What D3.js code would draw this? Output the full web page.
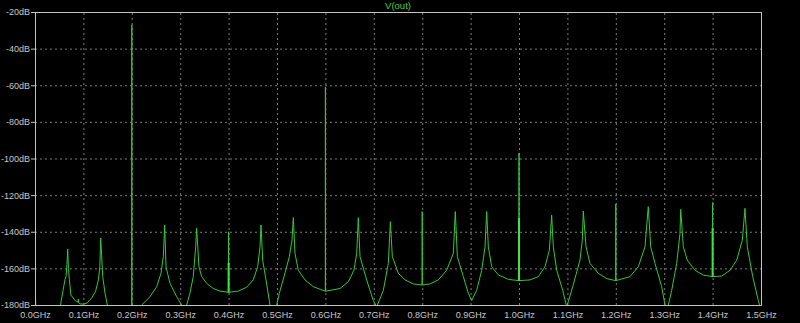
<!DOCTYPE html>
<html>
<head>
<meta charset="utf-8">
<script src="https://cdn.jsdelivr.net/npm/d3@7"></script>
<style>
  html, body { margin: 0; padding: 0; background: #000; }
  svg { display: block; }
  .tick text { font-family: "Liberation Sans", Arial, sans-serif; font-size: 9px; fill: #c8c8c8; }
  .grid line { stroke: #7c7c7c; stroke-dasharray: 2,3; }
  .grid .domain { display: none; }
</style>
</head>
<body>
<div id="chart"></div>
<script>
// DATA
const xTicksGHz = [0, 0.1, 0.2, 0.3, 0.4, 0.5, 0.6, 0.7, 0.8, 0.9, 1.0, 1.1, 1.2, 1.3, 1.4, 1.5]
const yTicksDb = [-20, -40, -60, -80, -100, -120, -140, -160, -180]

// V(out) spectrum (spikes go up and back down at the same frequency)
const traceGHz = [
  0.000, 0.002, 0.050, 0.054, 0.058, 0.062, 0.064, 0.066, 0.0676, 0.069, 0.071, 0.074, 0.083,
  0.0895, 0.0895, 0.0895, 0.093, 0.100, 0.107, 0.117, 0.125, 0.131, 0.134, 0.1357, 0.140, 0.1446,
  0.1494, 0.155, 0.200, 0.200, 0.200, 0.215, 0.2204, 0.2376, 0.2514, 0.2603, 0.2651, 0.268, 0.2707,
  0.279, 0.2927, 0.303, 0.307, 0.310, 0.3134, 0.320, 0.327, 0.332, 0.334, 0.3388, 0.3444, 0.3547,
  0.3684, 0.3822, 0.400, 0.400, 0.400, 0.420, 0.4373, 0.451, 0.460, 0.4649, 0.467, 0.4704, 0.4773,
  0.4855, 0.492, 0.4993, 0.5048, 0.5145, 0.5255, 0.531, 0.5337, 0.5372, 0.544, 0.5579, 0.575,
  0.600, 0.600, 0.600, 0.6302, 0.6474, 0.659, 0.6647, 0.668, 0.6715, 0.6853, 0.699, 0.706, 0.7197,
  0.730, 0.7342, 0.7383, 0.7507, 0.7645, 0.7816, 0.800, 0.800, 0.800, 0.816, 0.8333, 0.8506, 0.8643,
  0.8684, 0.8726, 0.885, 0.8953, 0.9022, 0.9126, 0.923, 0.9298, 0.9333, 0.9366, 0.9436, 0.9573,
  0.978, 1.000, 1.000, 1.000, 1.0227, 1.040, 1.0537, 1.0627, 1.0675, 1.0709, 1.0779, 1.0903, 1.0985,
  1.111, 1.126, 1.1308, 1.1329, 1.1384, 1.1467, 1.1639, 1.1812, 1.200, 1.200, 1.200, 1.2293, 1.2465,
  1.2603, 1.2671, 1.2721, 1.281, 1.2948, 1.3017, 1.305, 1.3085, 1.3155, 1.3258, 1.3326, 1.3341,
  1.3395, 1.3477, 1.3636, 1.3808, 1.400, 1.400, 1.400, 1.4188, 1.436, 1.4498, 1.4614, 1.4669, 1.4717,
  1.4829, 1.4945, 1.500
]
const traceDb = [
  -164.5, -185, -185, -178, -172, -166, -164.5, -158, -149.4, -160, -166, -174.5, -177.6,
  -178.5, -176.7, -178.6, -179.4, -179.5, -179, -176.2, -172.7, -166.3, -159, -143.4, -164.5, -173.5,
  -180, -185, -185, -27, -185, -185, -180, -175.5, -170, -162.7, -153.6, -136.3, -159.2,
  -168.2, -175.5, -180, -185, -185, -180, -173.6, -164.5, -148.2, -138.1, -159.1, -164.5, -168.2,
  -171, -172.4, -173.1, -140, -173.1, -172.4, -170.3, -166.3, -159.1, -148.2, -136.3, -155.5, -166.3,
  -180, -184, -180, -173.6, -164.5, -153.6, -144.5, -132.3, -151.8, -161, -166.3, -170,
  -172.5, -61, -172.5, -171, -167.3, -161, -151.8, -132.3, -153.6, -166.3, -177.6, -181, -172,
  -157.3, -134.5, -153.6, -162.7, -166.3, -168.5, -169.1, -129, -169.1, -168.5, -166.3, -161, -151.8,
  -129, -153.6, -164.5, -173.6, -177.6, -172, -161, -148.2, -129, -148.2, -159.1, -163.6,
  -166, -166.7, -97, -166.7, -166.3, -164.5, -159.1, -150, -130.9, -148.2, -161, -172, -181,
  -170, -155.5, -144.6, -128.7, -148.2, -157.3, -162.7, -165.6, -166.7, -124.8, -166.7, -164.5, -159.1,
  -148.2, -126.3, -148.2, -157.3, -170, -180, -184, -180, -172, -157.3, -141, -127.8,
  -148.2, -155.5, -161, -163.7, -164.5, -124, -164.5, -164.2, -161, -155.5, -144.6, -127.2, -148.2,
  -164.5, -177.6, -183
]

// brighter, thicker stretches of some spikes
const barGHz = [0.4, 1.0, 1.4]
const barLowDb = [-173, -166.7, -164.5]
const barHighDb = [-157, -132.5, -138]

// SETTINGS
const settings = {
  width: 800,
  height: 323,
  margins: { left: 35, right: 39, top: 12, bottom: 18 },
  traceColor: '#34c834',
  frameColor: '#c4c4c4'
}

const innerWidth = settings.width - settings.margins.left - settings.margins.right
const innerHeight = settings.height - settings.margins.top - settings.margins.bottom

// SCALES
const x = d3.scaleLinear().domain([0, 1.5]).range([0, innerWidth])
const y = d3.scaleLinear().domain([-180, -20]).range([innerHeight, 0])

const svg = d3.select('#chart').append('svg')
  .attr('width', settings.width)
  .attr('height', settings.height)
  .style('background', '#000')

const g = svg.append('g')
  .attr('transform', `translate(${settings.margins.left}, ${settings.margins.top})`)

g.append('clipPath').attr('id', 'plot-clip')
  .append('rect')
  .attr('width', innerWidth)
  .attr('height', innerHeight)

// grid
g.append('g')
  .attr('class', 'grid')
  .call(d3.axisLeft(y).tickValues(yTicksDb.slice(1, -1)).tickSize(-innerWidth).tickFormat(''))
g.append('g')
  .attr('class', 'grid')
  .attr('transform', `translate(0, ${innerHeight})`)
  .call(d3.axisBottom(x).tickValues(xTicksGHz.slice(1, -1)).tickSize(innerHeight).tickFormat(''))
  .selectAll('line').attr('y2', -innerHeight)

// trace
const points = traceGHz.map((f, i) => [f, traceDb[i]])
const line = d3.line().x(d => x(d[0])).y(d => y(d[1]))

g.append('path')
  .datum(points)
  .attr('clip-path', 'url(#plot-clip)')
  .attr('d', line)
  .attr('fill', 'none')
  .attr('stroke', settings.traceColor)
  .attr('stroke-width', 1)
  .attr('stroke-linejoin', 'miter')

g.selectAll('.bar')
  .data(barGHz)
  .enter().append('line')
  .attr('class', 'bar')
  .attr('x1', d => x(d))
  .attr('x2', d => x(d))
  .attr('y1', (d, i) => y(barLowDb[i]))
  .attr('y2', (d, i) => y(barHighDb[i]))
  .attr('stroke', '#3ce63c')
  .attr('stroke-width', 2)

// axes
const yAxis = d3.axisLeft(y).tickValues(yTicksDb).tickSize(4).tickPadding(1)
  .tickFormat(d => `${d}dB`)
const xAxis = d3.axisBottom(x).tickValues(xTicksGHz).tickSize(0).tickPadding(7)
  .tickFormat(d => `${d.toFixed(1)}GHz`)

const yG = g.append('g').call(yAxis)
yG.select('.domain').remove()
yG.selectAll('line').attr('stroke', settings.frameColor)

const xG = g.append('g').attr('transform', `translate(0, ${innerHeight})`).call(xAxis)
xG.select('.domain').remove()

// frame
g.append('rect')
  .attr('x', 0.5)
  .attr('y', 0.5)
  .attr('width', innerWidth)
  .attr('height', innerHeight)
  .attr('fill', 'none')
  .attr('stroke', settings.frameColor)
  .attr('stroke-width', 1)

// title
svg.append('text')
  .attr('x', settings.margins.left + innerWidth / 2)
  .attr('y', 6)
  .attr('dy', '0.35em')
  .attr('text-anchor', 'middle')
  .style('font-family', '"Liberation Sans", Arial, sans-serif')
  .style('font-size', '9.5px')
  .style('fill', '#3fd13f')
  .text('V(out)')
</script>
</body>
</html>
